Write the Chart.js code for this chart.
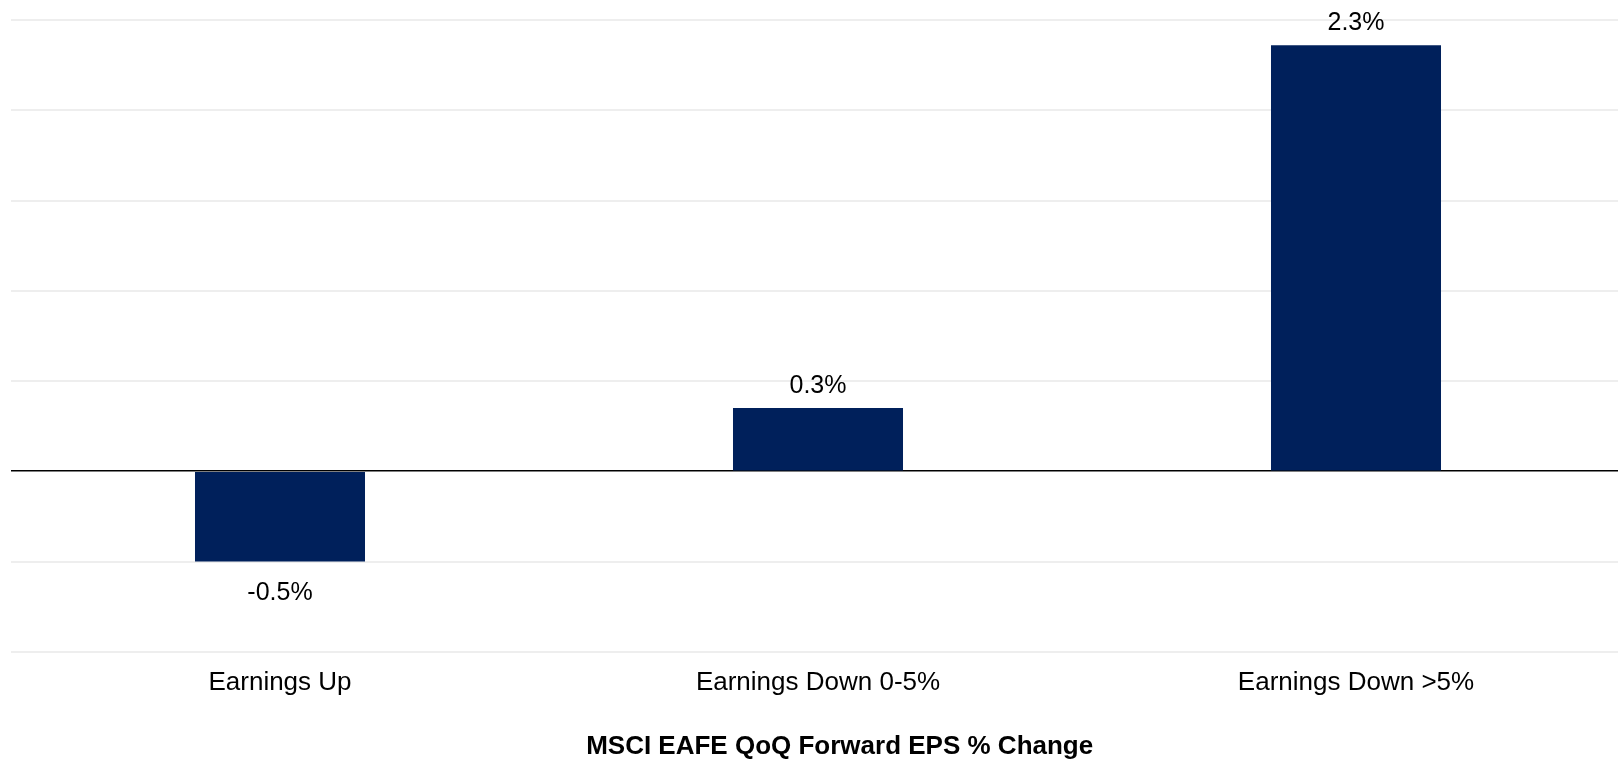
<!DOCTYPE html>
<html>
<head>
<meta charset="utf-8">
<script src="https://cdn.jsdelivr.net/npm/chart.js@4.4.1/dist/chart.umd.min.js"></script>
<style>
  html, body { margin: 0; padding: 0; background: #fff; overflow: hidden; }
  #wrap { width: 1626px; height: 763px; position: relative; }
</style>
</head>
<body>
<div id="wrap"><canvas id="chart"></canvas></div>
<script>
// categories and values
const categories = ['Earnings Up', 'Earnings Down 0-5%', 'Earnings Down >5%'];
const epsChange = [-0.5, 0.35, 2.36];
const valueLabels = ['-0.5%', '0.3%', '2.3%'];
const chartTitle = 'MSCI EAFE QoQ Forward EPS % Change';

const FONT = '"Liberation Sans", Arial, Helvetica, sans-serif';

// draws the value above / below each bar
const barLabels = {
    id: 'barLabels',
    afterDatasetsDraw(chart) {
        const ctx = chart.ctx;
        const meta = chart.getDatasetMeta(0);
        ctx.save();
        ctx.font = '25px ' + FONT;
        ctx.fillStyle = '#000';
        ctx.textAlign = 'center';
        ctx.textBaseline = 'middle';
        meta.data.forEach((bar, i) => {
            const v = epsChange[i];
            const y = v >= 0 ? bar.y - 22 : bar.y + 32;
            ctx.fillText(valueLabels[i], bar.x, y);
        });
        ctx.restore();
    }
};

const ctx = document.getElementById('chart').getContext('2d');
new Chart(ctx, {
    type: 'bar',
    data: {
        labels: categories,
        datasets: [{
            data: epsChange,
            backgroundColor: '#00205B',
            borderWidth: 0,
            barPercentage: 0.316,
            categoryPercentage: 1
        }]
    },
    options: {
        responsive: true,
        maintainAspectRatio: false,
        animation: false,
        layout: { padding: { left: 11, right: 1, top: 20, bottom: 1 } },
        plugins: {
            legend: { display: false },
            tooltip: { enabled: false },
            title: {
                display: true,
                // leading spaces nudge the title a bit right, like the original
                text: '\u00a0\u00a0\u00a0\u00a0\u00a0\u00a0' + chartTitle,
                position: 'bottom',
                color: '#000',
                font: { family: FONT, size: 26, weight: 'bold' },
                padding: { top: 17, bottom: 0 }
            }
        },
        scales: {
            x: {
                grid: { display: false, drawTicks: false },
                border: { display: false },
                ticks: {
                    color: '#000',
                    padding: 15.4,
                    font: { family: FONT, size: 26 }
                }
            },
            y: {
                min: -1,
                max: 2.5,
                border: { display: false },
                grid: {
                    drawTicks: false,
                    color: c => c.tick && c.tick.value === 0 ? '#000' : '#eeeeee',
                    lineWidth: c => c.tick && c.tick.value === 0 ? 1.6 : 2
                },
                ticks: { display: false, stepSize: 0.5 }
            }
        }
    },
    plugins: [barLabels]
});
</script>
</body>
</html>
